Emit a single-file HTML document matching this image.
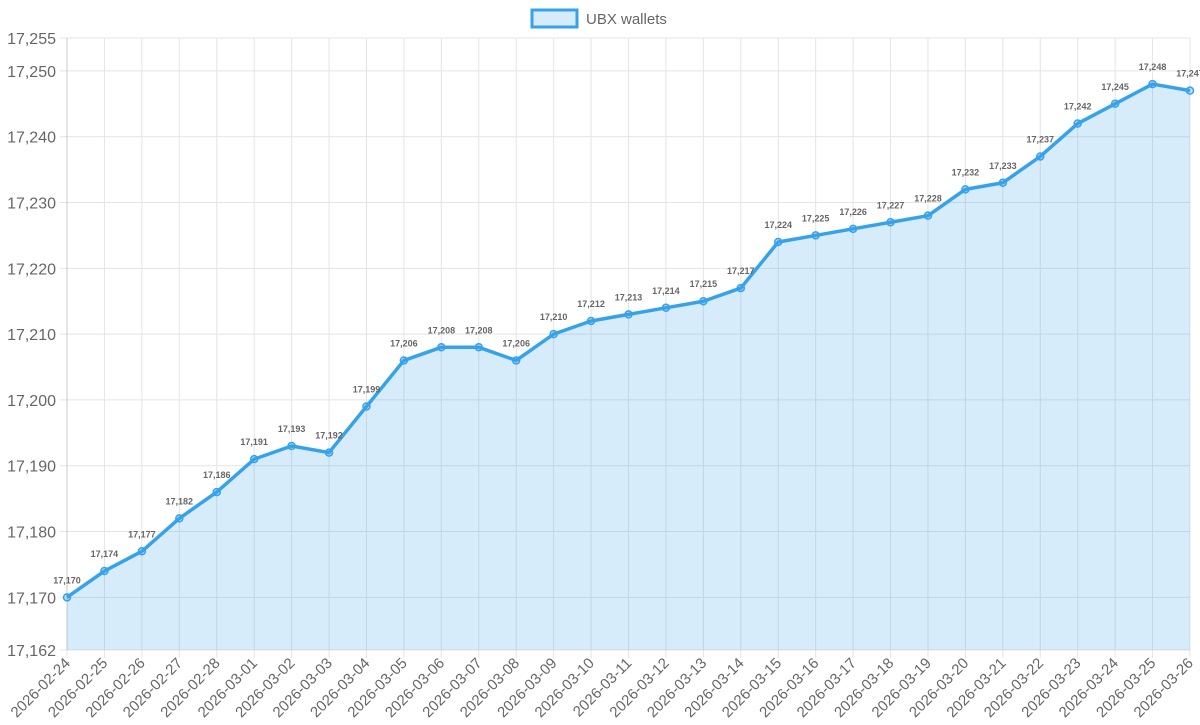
<!DOCTYPE html>
<html><head><meta charset="utf-8"><style>
html,body{margin:0;padding:0;background:#fff;}
svg text{font-family:"Liberation Sans",sans-serif;}
</style></head><body>
<svg id="c" width="1200" height="720" xmlns="http://www.w3.org/2000/svg"></svg>
<script>
const categories=["2026-02-24","2026-02-25","2026-02-26","2026-02-27","2026-02-28","2026-03-01","2026-03-02","2026-03-03","2026-03-04","2026-03-05","2026-03-06","2026-03-07","2026-03-08","2026-03-09","2026-03-10","2026-03-11","2026-03-12","2026-03-13","2026-03-14","2026-03-15","2026-03-16","2026-03-17","2026-03-18","2026-03-19","2026-03-20","2026-03-21","2026-03-22","2026-03-23","2026-03-24","2026-03-25","2026-03-26"];
const walletValues=[17170,17174,17177,17182,17186,17191,17193,17192,17199,17206,17208,17208,17206,17210,17212,17213,17214,17215,17217,17224,17225,17226,17227,17228,17232,17233,17237,17242,17245,17248,17247];
const yTicks=[17162,17170,17180,17190,17200,17210,17220,17230,17240,17250,17255];
const yMin=17162,yMax=17255;
const L=67,R=1190,T=38,B=650;
const NS="http://www.w3.org/2000/svg";
const svg=document.getElementById('c');
function x(i){return L+(R-L)*i/(categories.length-1);}
function y(v){return B-(v-yMin)/(yMax-yMin)*(B-T);}
function fmt(v){return v.toLocaleString('en-US');}
function mk(tag,attrs,parent){const e=document.createElementNS(NS,tag);for(const k in attrs)e.setAttribute(k,attrs[k]);(parent||svg).appendChild(e);return e;}
// grid
const grid=mk('g',{});


yTicks.forEach(t=>{
  const ln=mk('line',{x1:L-7,x2:R,y1:y(t),y2:y(t),stroke:'#e4e4e4','stroke-width':1},grid);
  
  
  const tx=mk('text',{x:L-11,y:y(t)+6,'text-anchor':'end','font-size':16,fill:'#666'});
  
  
  tx.textContent=fmt(t);
});
categories.forEach((c,i)=>{
  const ln=mk('line',{x1:x(i),x2:x(i),y1:T,y2:B+8,stroke:'#e4e4e4','stroke-width':1},grid);
  
  
  const tx=mk('text',{transform:`translate(${x(i)+4},${B+14}) rotate(-45)`,'text-anchor':'end','font-size':15,fill:'#666'});
  
  
  tx.textContent=c;
});
const ax=mk('line',{x1:L,x2:L,y1:T,y2:B,stroke:'#c8c8c8','stroke-width':1});


// area & line
let d=walletValues.map((v,i)=>(i?'L':'M')+x(i)+','+y(v)).join(' ');
const area=mk('path',{d:d+` L${x(walletValues.length-1)},${B} L${x(0)},${B} Z`,fill:'rgba(54,162,235,0.2)'});


const line=mk('path',{d:d,fill:'none',stroke:'#36a2eb','stroke-width':3.5,'stroke-linejoin':'round'});


walletValues.forEach((v,i)=>{
  const p=mk('circle',{cx:x(i),cy:y(v),r:3.5,fill:'rgba(54,162,235,0.3)',stroke:'#36a2eb','stroke-width':1.5});
  
  
  const t=mk('text',{x:x(i),y:y(v)-14,'text-anchor':'middle','font-size':9,'font-weight':'bold',fill:'#666'});
  
  
  t.textContent=fmt(v);
});
// legend
const lg=mk('g',{});


mk('rect',{x:532,y:10,width:45,height:17,fill:'rgba(54,162,235,0.2)',stroke:'#36a2eb','stroke-width':3},lg);
const lt=mk('text',{x:586,y:24,'font-size':15,fill:'#666'},lg);
lt.textContent='UBX wallets';
</script>
</body></html>
